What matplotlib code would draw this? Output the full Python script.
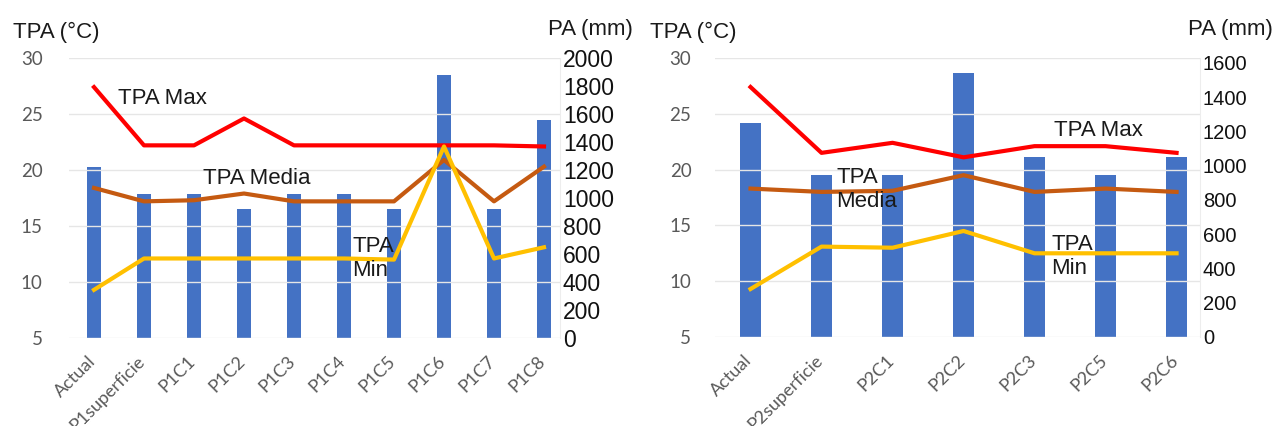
import matplotlib
matplotlib.use('Agg')
import matplotlib.pyplot as plt
import matplotlib.transforms as mtrans
import numpy as np

# panel 1
cats_p1 = ['Actual', 'P1superficie', 'P1C1', 'P1C2', 'P1C3', 'P1C4', 'P1C5', 'P1C6', 'P1C7', 'P1C8']
pa_p1 = [1220, 1030, 1030, 920, 1030, 1030, 920, 1880, 920, 1560]
tmax_p1 = [27.4, 22.2, 22.2, 24.6, 22.2, 22.2, 22.2, 22.2, 22.2, 22.1]
tmed_p1 = [18.4, 17.2, 17.3, 17.9, 17.2, 17.2, 17.2, 20.9, 17.2, 20.3]
tmin_p1 = [9.3, 12.1, 12.1, 12.1, 12.1, 12.1, 12.0, 22.1, 12.1, 13.1]
pa_ticks_p1 = list(range(0, 2001, 200))

# panel 2
cats_p2 = ['Actual', 'P2superficie', 'P2C1', 'P2C2', 'P2C3', 'P2C5', 'P2C6']
pa_p2 = [1250, 945, 945, 1540, 1050, 945, 1050]
tmax_p2 = [27.4, 21.5, 22.4, 21.1, 22.1, 22.1, 21.5]
tmed_p2 = [18.3, 18.0, 18.1, 19.5, 18.0, 18.3, 18.0]
tmin_p2 = [9.3, 13.1, 13.0, 14.5, 12.5, 12.5, 12.5]
pa_ticks_p2 = list(range(0, 1601, 200))

temp_ticks = [5, 10, 15, 20, 25, 30]

BLUE = '#4472C4'
RED = '#FF0000'
BROWN = '#C55A11'
YELLOW = '#FFC000'
GRAY = '#595959'
TXT = '#1a1a1a'
SANS = ['Liberation Sans', 'DejaVu Sans']
NARROW = ['Liberation Sans Narrow', 'DejaVu Sans Condensed', 'Liberation Sans', 'DejaVu Sans']
CALI = ['Lato', 'DejaVu Sans']

plt.rcParams['font.family'] = SANS


def draw_panel(fig, rect, cats, pa, tmax, tmed, tmin, pa_ticks, pa_top, xright,
               bar_w, left_pad, right_font, right_size, labels):
    ax = fig.add_axes(rect)
    ax2 = ax.twinx()
    x = np.arange(len(cats))

    # bars on secondary axis, lines on primary axis drawn above
    ax2.bar(x, pa, width=bar_w, color=BLUE, zorder=2)
    ax.set_zorder(ax2.get_zorder() + 1)
    ax.patch.set_visible(False)

    lw = 3
    ax.plot(x, tmax, color=RED, lw=lw, solid_joinstyle='round', zorder=3)
    ax.plot(x, tmed, color=BROWN, lw=lw, solid_joinstyle='round', zorder=3)
    ax.plot(x, tmin, color=YELLOW, lw=lw, solid_joinstyle='round', zorder=3)

    ax.set_xlim(-0.5, xright)
    ax.set_ylim(5, 30)
    ax2.set_ylim(0, pa_top)
    ax.set_yticks(temp_ticks)
    ax2.set_yticks(pa_ticks)

    ax.yaxis.grid(True, color='#E6E6E6', lw=1)
    ax.set_axisbelow(False)

    for a in (ax, ax2):
        for s in a.spines.values():
            s.set_visible(False)
    ax2.spines['right'].set_visible(True)
    ax2.spines['right'].set_color('#EDEDED')

    ax.tick_params(axis='y', length=0, pad=left_pad, labelsize=13.5, labelcolor=GRAY)
    for t in ax.get_yticklabels():
        t.set_family(CALI)
    ax2.tick_params(axis='y', length=0, pad=2, labelsize=right_size, labelcolor='#111111')
    for t in ax2.get_yticklabels():
        t.set_family(right_font)

    ax.set_xticks(x)
    ax.set_xticklabels(cats, rotation=45, ha='right', va='top', rotation_mode='anchor',
                       color=GRAY, fontsize=13, family=CALI)
    ax.tick_params(axis='x', length=0, pad=11)
    shift = mtrans.ScaledTranslation(-5 / 72, 0, fig.dpi_scale_trans)
    for t in ax.get_xticklabels():
        t.set_transform(t.get_transform() + shift)

    for txt, tx, ty in labels:
        ax.text(tx, ty, txt, fontsize=16, color=TXT, ha='left', va='center',
                linespacing=1.15, zorder=5)
    return ax, ax2


fig = plt.figure(figsize=(12.74, 4.26), dpi=100)
W, H = 1274.0, 426.0

draw_panel(fig, [69 / W, 88 / H, 491 / W, 280 / H], cats_p1, pa_p1, tmax_p1, tmed_p1, tmin_p1,
           pa_ticks_p1, 2000, 9.32, 0.29, 19, NARROW, 16.5,
           [('TPA Max', 0.48, 26.4), ('TPA Media', 2.18, 19.2), ('TPA\nMin', 5.16, 12.1)])

draw_panel(fig, [715 / W, 89 / H, 485 / W, 279 / H], cats_p2, pa_p2, tmax_p2, tmed_p2, tmin_p2,
           pa_ticks_p2, 1629, 6.33, 0.30, 17, SANS, 14.5,
           [('TPA Max', 4.28, 23.5), ('TPA\nMedia', 1.21, 18.2), ('TPA\nMin', 4.24, 12.2)])

# axis titles
fig.text(13 / W, 1 - 32 / H, 'TPA (°C)', fontsize=16, color=TXT, ha='left', va='center')
fig.text(633 / W, 1 - 29 / H, 'PA (mm)', fontsize=16, color=TXT, ha='right', va='center')
fig.text(650 / W, 1 - 32 / H, 'TPA (°C)', fontsize=16, color=TXT, ha='left', va='center')
fig.text(1273 / W, 1 - 30 / H, 'PA (mm)', fontsize=16, color=TXT, ha='right', va='center')

fig.savefig('out.png', dpi=100)
